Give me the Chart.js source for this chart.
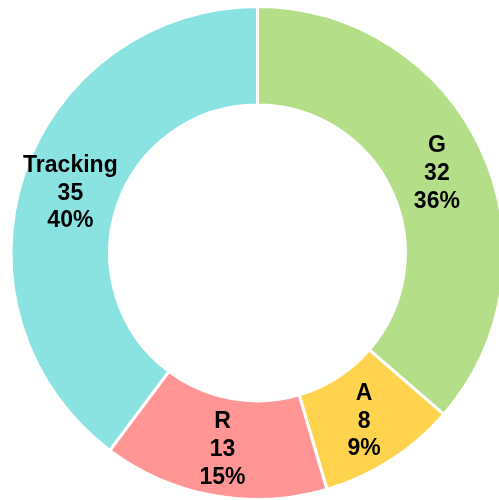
<!DOCTYPE html>
<html>
<head>
<meta charset="utf-8">
<script src="https://cdn.jsdelivr.net/npm/chart.js@4"></script>
<style>
  html, body { margin: 0; padding: 0; background: #fff; overflow: hidden; }
  #wrap { position: absolute; left: 0; top: 0; width: 515px; height: 506px; }
</style>
</head>
<body>
<div id="wrap"><canvas id="ragChart"></canvas></div>
<script>
const ragLabels = ["G", "A", "R", "Tracking"]
const ragValues = [32, 8, 13, 35]
const ragColors = ["#b5de88", "#ffd34d", "#ff9595", "#8ae3e1"]

// draws "label / value / percent" in the middle of each slice
const sliceLabels = {
  id: 'sliceLabels',
  afterDatasetsDraw(chart) {
    const ctx = chart.ctx
    const meta = chart.getDatasetMeta(0)
    const total = ragValues.reduce((a, b) => a + b, 0)
    ctx.save()
    ctx.font = 'bold 23px "Liberation Sans", Arial, sans-serif'
    ctx.fillStyle = '#000'
    ctx.textAlign = 'center'
    ctx.textBaseline = 'middle'
    meta.data.forEach((arc, i) => {
      const pos = arc.tooltipPosition()
      const lines = [ragLabels[i], String(ragValues[i]), Math.round(ragValues[i] / total * 100) + '%']
      const lh = 23 * 1.2
      lines.forEach((t, j) => {
        ctx.fillText(t, pos.x, pos.y + 2.5 + (j - 1) * lh)
      })
    })
    ctx.restore()
  }
}

new Chart(document.getElementById('ragChart'), {
  type: 'doughnut',
  data: {
    labels: ragLabels,
    datasets: [{
      data: ragValues,
      backgroundColor: ragColors,
      borderColor: '#fff',
      borderWidth: 3
    }]
  },
  options: {
    responsive: true,
    maintainAspectRatio: false,
    animation: false,
    cutout: '60%',
    layout: { padding: 5 },
    plugins: {
      legend: { display: false },
      tooltip: { enabled: false }
    }
  },
  plugins: [sliceLabels]
})
</script>
</body>
</html>
